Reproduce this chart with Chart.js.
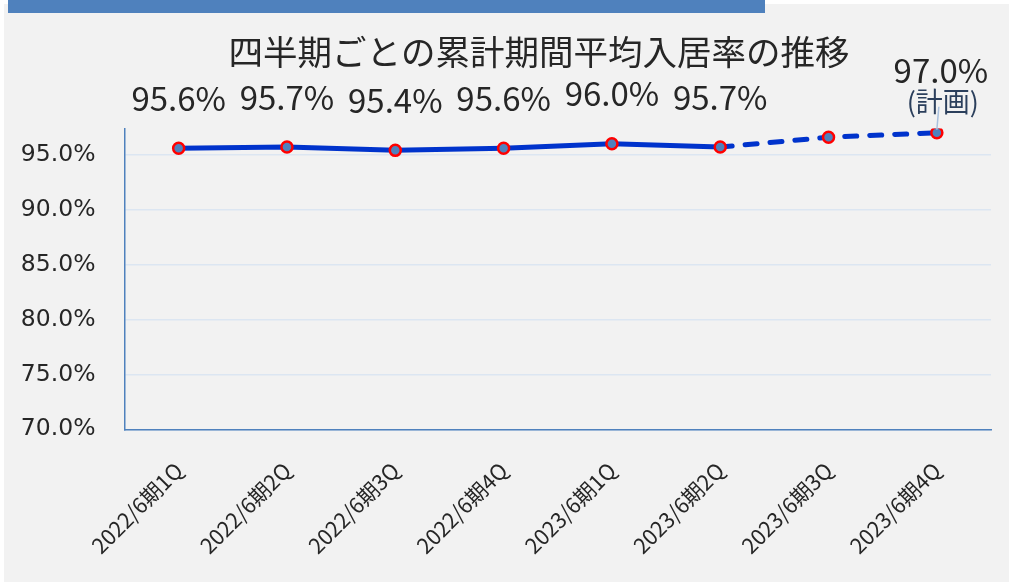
<!DOCTYPE html>
<html lang="ja">
<head>
<meta charset="UTF-8">
<script src="https://cdn.jsdelivr.net/npm/chart.js@4"></script>
<style>
    html, body { margin: 0; padding: 0; background: #ffffff; }
    body { width: 1009px; height: 582px; position: relative; overflow: hidden; }
    #panel { position: absolute; left: 4px; top: 4px; width: 1005px; height: 578px; background: #f2f2f2; }
    #topbar { position: absolute; left: 8px; top: 0; width: 757px; height: 13px; background: #4f81bd; }
    #wrap { position: absolute; left: 0; top: 0; width: 1009px; height: 582px; }
</style>
</head>
<body>
<div id="panel"></div>
<div id="topbar"></div>
<div id="wrap"><canvas id="occupancy-chart"></canvas></div>
<script>
// データ
const categories = ['2022/6期1Q', '2022/6期2Q', '2022/6期3Q', '2022/6期4Q', '2023/6期1Q', '2023/6期2Q', '2023/6期3Q', '2023/6期4Q'];
const rates = [95.6, 95.7, 95.4, 95.6, 96.0, 95.7, 96.6, 97.0];
const valueLabels = ['95.6%', '95.7%', '95.4%', '95.6%', '96.0%', '95.7%', null, '97.0%'];
const planNote = '(計画)';
const yTickValues = [70, 75, 80, 85, 90, 95];
const lastActualIndex = 5; // ここから先は計画(破線)

const textColor = '#262626';

// タイトルの中心位置をずらす (左余白を除いた範囲で中央揃え)
const titleShiftPlugin = {
    id: 'titleShift',
    afterLayout(chart) {
        if (chart.titleBlock) {
            chart.titleBlock.left = 87;
            chart.titleBlock.right = 991;
        }
    }
};

// 値ラベル描画プラグイン
const valueLabelPlugin = {
    id: 'valueLabels',
    afterDatasetsDraw(chart) {
        const ctx = chart.ctx;
        const meta = chart.getDatasetMeta(0);
        ctx.save();
        ctx.textAlign = 'center';
        ctx.textBaseline = 'middle';
        meta.data.forEach((pt, i) => {
            const label = valueLabels[i];
            if (!label) return;
            if (i === valueLabels.length - 1) {
                // 引出線
                ctx.strokeStyle = '#a9c1de';
                ctx.lineWidth = 1.5;
                ctx.beginPath();
                ctx.moveTo(pt.x + 2, pt.y - 26);
                ctx.lineTo(pt.x, pt.y - 3);
                ctx.stroke();
                ctx.font = '33px "Noto Sans CJK JP"';
                ctx.fillStyle = textColor;
                ctx.fillText(label, pt.x + 4, pt.y - 62);
                ctx.font = '27px "Noto Sans CJK JP"';
                ctx.fillStyle = '#2b3f5c';
                ctx.fillText(planNote, pt.x + 6, pt.y - 31);
            } else {
                ctx.font = '33px "Noto Sans CJK JP"';
                ctx.fillStyle = textColor;
                ctx.fillText(label, pt.x, pt.y - 50);
            }
        });
        ctx.restore();
    }
};

const ctx = document.getElementById('occupancy-chart').getContext('2d');
const occupancyChart = new Chart(ctx, {
    type: 'line',
    data: {
        labels: categories,
        datasets: [{
            label: '平均入居率',
            data: rates,
            borderColor: '#0033cc',
            borderWidth: 5,
            borderCapStyle: 'round',
            pointBackgroundColor: '#4f81bd',
            pointBorderColor: '#ff0000',
            pointBorderWidth: 2.5,
            pointRadius: 5.5,
            tension: 0,
            segment: {
                borderDash: c => c.p0DataIndex >= lastActualIndex ? [12, 13] : undefined
            }
        }]
    },
    options: {
        responsive: true,
        maintainAspectRatio: false,
        animation: false,
        layout: {
            padding: { left: 0, right: 18, top: 0, bottom: 0 }
        },
        plugins: {
            legend: { display: false },
            tooltip: { enabled: false },
            title: {
                display: true,
                text: '四半期ごとの累計期間平均入居率の推移',
                color: textColor,
                font: { family: '"Noto Sans CJK JP"', size: 34.5, weight: 'normal', lineHeight: 1.2 },
                padding: { top: 31, bottom: 56 }
            }
        },
        scales: {
            x: {
                offset: true,
                grid: { display: false },
                border: { display: true, color: '#4f81bd', width: 1.5 },
                ticks: {
                    color: textColor,
                    font: { family: '"Noto Sans CJK JP"', size: 21.5 },
                    minRotation: 45,
                    maxRotation: 45,
                    autoSkip: false,
                    padding: 20
                },
                afterFit: function(scale) {
                    scale.height = 152.7;
                }
            },
            y: {
                min: 70,
                max: 97.4,
                grid: { color: '#dce6f2', lineWidth: 1.5, drawTicks: false },
                border: { display: true, color: '#4f81bd', width: 1.5 },
                ticks: {
                    color: textColor,
                    font: { family: '"DejaVu Sans"', size: 23.5 },
                    padding: 29,
                    callback: function(value) {
                        return value.toFixed(1) + '%';
                    }
                },
                afterBuildTicks: function(scale) {
                    scale.ticks = yTickValues.map(v => ({ value: v }));
                },
                afterFit: function(scale) {
                    scale.width = 124.5;
                }
            }
        }
    },
    plugins: [titleShiftPlugin, valueLabelPlugin]
});
</script>
</body>
</html>
